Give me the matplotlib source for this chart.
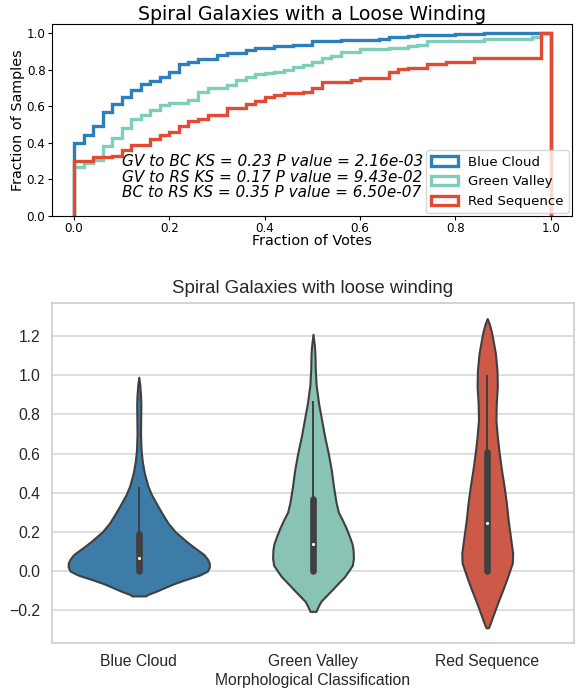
import colorsys
import numpy as np
import matplotlib
matplotlib.use("Agg")
import matplotlib.pyplot as plt
import matplotlib.colors as mcolors

# ---- top panel: cumulative fraction of samples vs fraction of votes ----
edges = np.linspace(0.0, 1.0, 51)
blue_cdf = [0.40, 0.44, 0.49, 0.57, 0.61, 0.65, 0.69, 0.72, 0.74, 0.76,
            0.79, 0.83, 0.84, 0.86, 0.86, 0.88, 0.89, 0.89, 0.91, 0.92,
            0.92, 0.93, 0.93, 0.936, 0.936, 0.958, 0.958, 0.958, 0.963, 0.963,
            0.963, 0.963, 0.971, 0.979, 0.979, 0.987, 0.99, 0.99, 0.99, 0.99,
            0.995, 0.995, 0.995, 1.0, 1.0, 1.0, 1.0, 1.0, 1.0, 1.0]
green_cdf = [0.265, 0.288, 0.305, 0.38, 0.425, 0.48, 0.53, 0.55, 0.58, 0.605,
             0.617, 0.62, 0.635, 0.68, 0.70, 0.70, 0.717, 0.745, 0.762, 0.775,
             0.78, 0.79, 0.80, 0.817, 0.826, 0.844, 0.862, 0.877, 0.895, 0.895,
             0.914, 0.914, 0.914, 0.921, 0.921, 0.932, 0.936, 0.958, 0.958, 0.958,
             0.958, 0.958, 0.958, 0.967, 0.967, 0.967, 0.967, 0.967, 0.978, 1.0]
red_cdf = [0.30, 0.30, 0.32, 0.32, 0.33, 0.36, 0.39, 0.39, 0.42, 0.44,
           0.46, 0.49, 0.52, 0.53, 0.55, 0.55, 0.59, 0.59, 0.61, 0.63,
           0.65, 0.66, 0.671, 0.671, 0.68, 0.702, 0.735, 0.735, 0.735, 0.744,
           0.753, 0.753, 0.753, 0.79, 0.804, 0.812, 0.812, 0.832, 0.832, 0.845,
           0.845, 0.845, 0.863, 0.863, 0.863, 0.863, 0.863, 0.863, 0.863, 1.0]
groups = ["Blue Cloud", "Green Valley", "Red Sequence"]
ks_lines = ["GV to BC KS = 0.23 P value = 2.16e-03",
            "GV to RS KS = 0.17 P value = 9.43e-02",
            "BC to RS KS = 0.35 P value = 6.50e-07"]
colors = ["#2c7fb8", "#7fcdbb", "#e34a33"]

# ---- bottom panel: violin outlines (value, half width) and box stats ----
bc_y = [0.99, 0.95, 0.90, 0.85, 0.78, 0.70, 0.62, 0.56, 0.50, 0.435, 0.39, 0.347,
        0.30, 0.245, 0.20, 0.177, 0.15, 0.126, 0.10, 0.083, 0.06, 0.04, 0.02, 0.0,
        -0.02, -0.044, -0.065, -0.087, -0.105, -0.12, -0.127]
bc_w = [0.0, 0.006, 0.010, 0.012, 0.011, 0.010, 0.013, 0.02, 0.032, 0.052, 0.073, 0.10,
        0.13, 0.168, 0.21, 0.24, 0.275, 0.31, 0.35, 0.375, 0.395, 0.405, 0.405, 0.394,
        0.35, 0.267, 0.2, 0.142, 0.095, 0.05, 0.04]
gv_y = [1.21, 1.15, 1.11, 1.03, 0.95, 0.857, 0.77, 0.687, 0.60, 0.517, 0.43, 0.347,
        0.30, 0.262, 0.22, 0.177, 0.14, 0.109, 0.066, 0.03, 0.007, -0.03, -0.061,
        -0.095, -0.129, -0.155, -0.18, -0.206]
gv_w = [0.0, 0.008, 0.011, 0.013, 0.018, 0.032, 0.05, 0.067, 0.088, 0.105, 0.118, 0.133,
        0.146, 0.168, 0.19, 0.209, 0.224, 0.23, 0.232, 0.226, 0.209, 0.18, 0.146,
        0.11, 0.073, 0.045, 0.03, 0.017]
rs_y = [1.29, 1.265, 1.23, 1.197, 1.112, 1.027, 0.942, 0.857, 0.772, 0.687, 0.602,
        0.517, 0.432, 0.347, 0.262, 0.177, 0.092, 0.041, -0.027, -0.095, -0.163,
        -0.231, -0.26, -0.282, -0.29]
rs_w = [0.0, 0.011, 0.022, 0.03, 0.047, 0.056, 0.058, 0.052, 0.05, 0.058, 0.069,
        0.082, 0.097, 0.11, 0.12, 0.133, 0.146, 0.144, 0.118, 0.09, 0.06,
        0.032, 0.02, 0.011, 0.006]
q1 = [0.0, 0.0, 0.0]
q3 = [0.19, 0.37, 0.61]
whisk_lo = [0.0, 0.0, 0.0]
whisk_hi = [0.43, 0.87, 1.0]
medians = [0.066, 0.136, 0.245]


def desaturate(c, prop=0.75):
    h, l, s = colorsys.rgb_to_hls(*mcolors.to_rgb(c))
    return colorsys.hls_to_rgb(h, l, s * prop)


fig = plt.figure(figsize=(5.82, 6.93), dpi=100)

# top: cumulative step histograms (weights are the per-bin increments)
ax1 = fig.add_axes([0.0888, 0.6887, 0.8935, 0.2764])
for cdf, col, name in zip([blue_cdf, green_cdf, red_cdf], colors, groups):
    inc = np.diff(np.concatenate([[0.0], cdf]))
    ax1.hist(edges[:-1], bins=edges, weights=inc, cumulative=True,
             histtype="step", color=col, linewidth=2.4, label=name)
ax1.set_xlim(-0.047, 1.044)
ax1.set_ylim(0, 1.05)
ax1.set_title("Spiral Galaxies with a Loose Winding", fontsize=13.6, pad=2)
ax1.set_xlabel("Fraction of Votes", fontsize=10.4, labelpad=-1)
ax1.set_ylabel("Fraction of Samples", fontsize=10.4, labelpad=1)
ax1.tick_params(labelsize=8.6, length=3, pad=1.5)
ax1.legend(loc="lower right", fontsize=9.5, borderaxespad=0.2,
           handlelength=2.0, labelspacing=0.5)
ax1.text(0.10, 0.085, "\n".join(ks_lines), fontsize=11, style="italic",
         linespacing=1.05, va="bottom")

# bottom: violins
ax2 = fig.add_axes([0.0888, 0.0726, 0.8980, 0.4906])
ax2.set_facecolor("white")
for s in ax2.spines.values():
    s.set_color("#cccccc")
    s.set_linewidth(1.2)
ax2.yaxis.grid(True, color="#d5d5d5", linewidth=1.1)
ax2.set_axisbelow(True)
gray = "#3f3f3f"
for i, (vy, vw) in enumerate([(bc_y, bc_w), (gv_y, gv_w), (rs_y, rs_w)]):
    vy = np.array(vy)
    vw = np.array(vw)
    ax2.fill_betweenx(vy, i - vw, i + vw, facecolor=desaturate(colors[i]),
                      edgecolor=gray, linewidth=1.5, zorder=2)
    ax2.plot([i, i], [whisk_lo[i], whisk_hi[i]], color=gray, lw=1.4,
             solid_capstyle="butt", zorder=3)
    ax2.plot([i, i], [q1[i], q3[i]], color=gray, lw=4.8,
             solid_capstyle="round", zorder=3)
    ax2.scatter([i], [medians[i]], s=5, color="white", zorder=4, linewidths=0)
ax2.set_xlim(-0.5, 2.5)
ax2.set_ylim(-0.366, 1.371)
ax2.set_xticks(range(3))
ax2.set_xticklabels(groups)
yt = np.arange(-0.2, 1.21, 0.2)
ax2.set_yticks(yt)
ax2.set_yticklabels(["{:.1f}".format(v).replace("-", "\u2212") for v in yt])
ax2.tick_params(length=0, labelsize=11.3, labelcolor="#262626", pad=8)
for lab in ax2.get_xticklabels() + ax2.get_yticklabels():
    lab.set_fontfamily("Liberation Sans")
ax2.set_xlabel("Morphological Classification", fontsize=11.3, color="#262626",
               family="Liberation Sans", labelpad=3)
ax2.set_title("Spiral Galaxies with loose winding", fontsize=13.4, color="#262626",
              family="Liberation Sans", pad=7)

fig.savefig("out.png", dpi=100)
